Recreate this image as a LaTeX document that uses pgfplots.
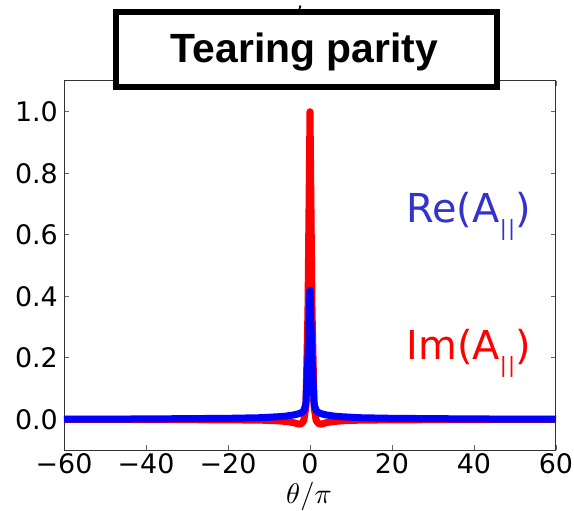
\documentclass[border=0pt]{standalone}
\usepackage{fontspec}
\setmainfont{DejaVu Sans}
\newfontfamily\titlefont{Liberation Sans}
\usepackage{graphicx}
\usepackage{pgfplots}
\pgfplotsset{compat=1.18}
\definecolor{relbl}{RGB}{51,51,204}
\newcommand{\parsub}{\raisebox{-13bp}{\fontsize{21}{21}\selectfont |\kern1.2bp|}}
\begin{document}
\begin{tikzpicture}
\path[use as bounding box] (-64bp,-61bp) rectangle (510bp,450bp);
\begin{axis}[
  at={(0,0)}, anchor=south west,
  scale only axis, width=492bp, height=369bp,
  xmin=-60, xmax=60, ymin=-0.1, ymax=1.1,
  xtick={-60,-40,-20,0,20,40,60},
  xticklabels={−60,−40,−20,0,20,40,60},
  ytick={0,0.2,0.4,0.6,0.8,1.0},
  yticklabels={0.0,0.2,0.4,0.6,0.8,1.0},
  tick align=inside,
  major tick length=5bp,
  every tick/.style={black!60, line width=0.8bp},
  axis line style={black!80, line width=1bp},
  tick label style={font=\fontsize{27}{27}\selectfont, inner sep=0pt},
  xticklabel style={anchor=base, yshift=-23bp},
  yticklabel style={anchor=east, xshift=-6bp},
  clip=false,
]
\addplot[red, line width=7bp, line join=round] coordinates {
(-60,0) (-40,-0.001) (-20,-0.002) (-12,-0.003) (-8,-0.005) (-6,-0.007) (-5,-0.009) (-4,-0.011) (-3,-0.015) (-2.5,-0.016) (-2,-0.013) (-1.5,-0.004) (-1,0.04) (-0.5,0.35) (0,1.0)
(0.5,0.35) (1,0.04) (1.5,-0.004) (2,-0.013) (2.5,-0.016) (3,-0.015) (4,-0.011) (5,-0.009) (6,-0.007) (8,-0.005) (12,-0.003) (20,-0.002) (40,-0.001) (60,0)
};
\addplot[blue, line width=7bp, line join=round] coordinates {
(-60,0.0) (-40,0.001) (-20,0.003) (-12,0.005) (-8,0.008) (-6,0.010) (-5,0.012) (-4,0.014) (-3,0.017) (-2,0.022) (-1.5,0.028) (-1,0.05) (-0.5,0.2) (0,0.42)
(0.5,0.2) (1,0.05) (1.5,0.028) (2,0.022) (3,0.017) (4,0.014) (5,0.012) (6,0.010) (8,0.008) (12,0.005) (20,0.003) (40,0.001) (60,0.0)
};
\node[anchor=base west, text=relbl, font=\fontsize{40}{40}\selectfont, inner sep=0pt] at (axis cs:23.5,0.64) {Re(A\parsub)};
\node[anchor=base west, text=red, font=\fontsize{40}{40}\selectfont, inner sep=0pt] at (axis cs:23.5,0.195) {Im(A\parsub)};
\end{axis}
\draw[black, line width=6bp, fill=white] (52bp,363bp) rectangle (433bp,438bp);
\node[anchor=base, inner sep=0pt, font=\titlefont\bfseries\fontsize{41}{41}\selectfont] at (240.5bp,387bp) {Tearing parity};
\node[anchor=base, inner sep=0pt, font=\fontsize{20}{20}\selectfont] at (236bp,441bp) {,};
\node[anchor=base, inner sep=0pt] at (245bp,-53bp) {\scalebox{2.85}{$\theta/\pi$}};
\end{tikzpicture}
\end{document}
